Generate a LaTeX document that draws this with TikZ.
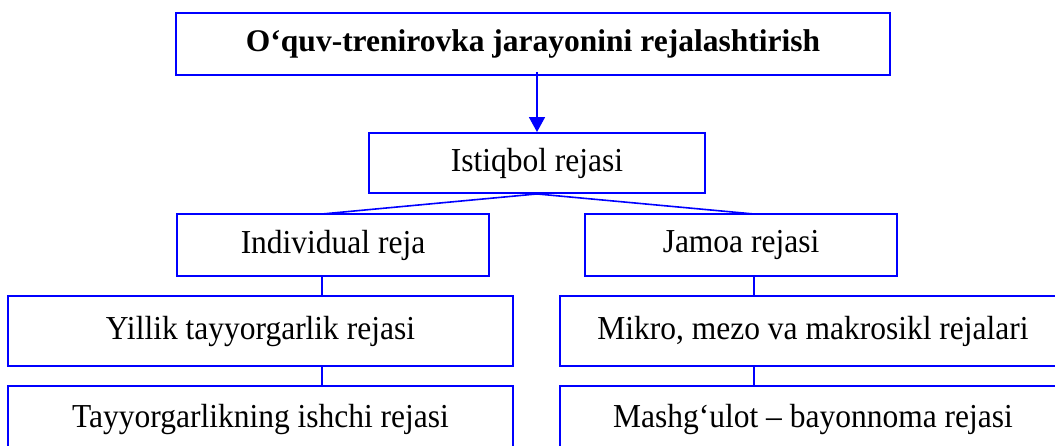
\documentclass[tikz,border=0pt]{standalone}
\usepackage{fontspec}
\setmainfont{Liberation Serif}
\newfontfamily\narrowserif[FakeStretch=0.94]{Liberation Serif}
\usetikzlibrary{arrows.meta}
\definecolor{lineblue}{RGB}{0,0,255}
\begin{document}
\begin{tikzpicture}[x=1pt,y=-1pt,
  box/.style={draw=lineblue,line width=1.9pt,inner sep=0pt,anchor=center,
    font=\narrowserif\fontsize{33.5}{40}\selectfont},
  conn/.style={draw=lineblue,line width=1.6pt},
  arr/.style={conn,-{Triangle[length=15pt,width=16pt]}}]
\useasboundingbox (0,0) rectangle (1055,446);
\clip (0,0) rectangle (1055,446);
\node[box,minimum width=714pt,minimum height=62pt,font=\rmfamily\fontsize{31.5}{38}\selectfont\bfseries] (top) at (533,44) {O‘quv-trenirovka jarayonini rejalashtirish};
\node[box,minimum width=336pt,minimum height=60pt] (ist) at (537,163) {Istiqbol rejasi};
\node[box,minimum width=312pt,minimum height=62pt] (ind) at (333,245) {Individual reja};
\node[box,minimum width=312pt,minimum height=62pt] (jam) at (741,245) {Jamoa rejasi};
\node[box,minimum width=505pt,minimum height=70pt] (yil) at (260.5,331) {Yillik tayyorgarlik rejasi};
\node[box,minimum width=506pt,minimum height=70pt] (mik) at (813,331) {Mikro, mezo va makrosikl rejalari};
\node[box,minimum width=505pt,minimum height=66pt] (tay) at (260.5,419) {Tayyorgarlikning ishchi rejasi};
\node[box,minimum width=506pt,minimum height=66pt] (mas) at (813,419) {Mashg‘ulot – bayonnoma rejasi};
\coordinate (cl) at (322,214);
\coordinate (cr) at (754,214);
\draw[arr] (ist.north |- top.south) ++(0,-4) -- (ist.north);
\draw[conn] (cl) -- (ist.south) -- (cr);
\draw[conn] (cl |- ind.south) -- (cl |- yil.north);
\draw[conn] (cl |- yil.south) -- (cl |- tay.north);
\draw[conn] (cr |- jam.south) -- (cr |- mik.north);
\draw[conn] (cr |- mik.south) -- (cr |- mas.north);
\end{tikzpicture}
\end{document}
